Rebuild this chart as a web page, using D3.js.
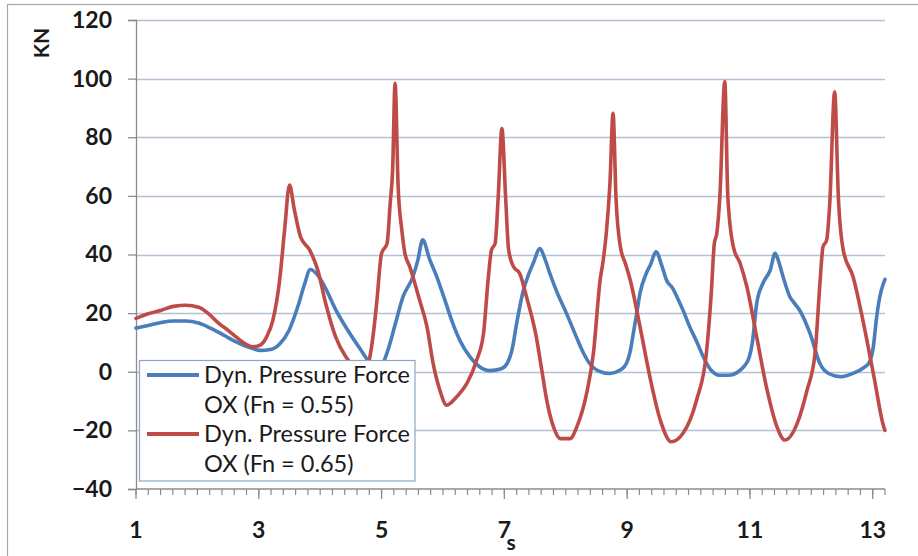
<!DOCTYPE html>
<html>
<head>
<meta charset="utf-8">
<script src="https://cdn.jsdelivr.net/npm/d3@7"></script>
<style>
  body { margin: 0; background: #fff; }
  svg { display: block; font-family: Lato, "Open Sans", "Liberation Sans", sans-serif; }
</style>
</head>
<body>
<svg id="chart" width="918" height="556"></svg>
<script>
// Time (s) and dynamic pressure force (kN), Fn = 0.55
const blueTime = [1.0, 1.2, 1.41, 1.61, 1.81, 2.02, 2.22, 2.42, 2.63, 2.83, 3.03, 3.19, 3.34, 3.49, 3.64, 3.74, 3.84, 3.95, 4.05, 4.25, 4.46, 4.66, 4.81, 4.91, 5.01, 5.12, 5.22, 5.35, 5.51, 5.59, 5.67, 5.78, 5.9, 6.03, 6.16, 6.28, 6.44, 6.59, 6.76, 6.95, 7.05, 7.13, 7.2, 7.31, 7.4, 7.47, 7.58, 7.66, 7.74, 7.86, 8.01, 8.16, 8.29, 8.4, 8.52, 8.72, 8.88, 8.98, 9.05, 9.1, 9.16, 9.21, 9.31, 9.38, 9.47, 9.56, 9.64, 9.74, 9.81, 9.92, 10.02, 10.15, 10.24, 10.35, 10.51, 10.65, 10.81, 10.91, 10.99, 11.04, 11.11, 11.21, 11.33, 11.41, 11.47, 11.54, 11.65, 11.72, 11.81, 11.98, 12.14, 12.28, 12.48, 12.69, 12.84, 12.94, 13.01, 13.06, 13.11, 13.18, 13.2];
const blueForce = [14.9, 15.8, 16.8, 17.3, 17.3, 16.6, 14.8, 12.6, 10.2, 8.4, 7.3, 7.6, 9.5, 14.0, 22.5, 29.5, 34.9, 33.2, 30.0, 21.3, 13.8, 7.5, 3.0, 1.2, 2.5, 8.5, 16.0, 25.6, 32.4, 38.0, 45.0, 38.5, 32.4, 24.5, 16.5, 10.5, 5.1, 1.8, 0.4, 1.0, 3.0, 8.0, 16.5, 27.8, 33.5, 37.0, 42.0, 38.5, 33.6, 27.0, 20.0, 12.5, 6.3, 2.5, 0.4, -0.6, 0.5, 2.5, 7.0, 13.0, 20.5, 26.8, 33.5, 36.5, 40.9, 36.5, 31.3, 28.5, 25.6, 20.5, 15.3, 9.5, 5.1, 1.0, -1.2, -1.2, 0.0, 2.0, 5.0, 10.0, 23.3, 30.1, 34.7, 40.4, 37.5, 32.4, 25.6, 23.5, 21.0, 13.0, 2.8, -0.6, -1.7, -0.5, 1.2, 3.0, 8.5, 18.0, 25.0, 30.5, 31.5];

// Time (s) and dynamic pressure force (kN), Fn = 0.65
const redTime = [1.0, 1.2, 1.41, 1.61, 1.81, 2.02, 2.17, 2.35, 2.52, 2.63, 2.78, 2.9, 3.03, 3.13, 3.23, 3.34, 3.42, 3.5, 3.58, 3.68, 3.83, 3.96, 4.09, 4.25, 4.42, 4.56, 4.68, 4.78, 4.86, 4.92, 5.0, 5.09, 5.14, 5.18, 5.22, 5.27, 5.33, 5.38, 5.46, 5.62, 5.74, 5.84, 5.95, 6.06, 6.22, 6.39, 6.55, 6.66, 6.74, 6.79, 6.85, 6.9, 6.96, 7.02, 7.07, 7.15, 7.25, 7.36, 7.52, 7.61, 7.69, 7.8, 7.91, 8.07, 8.18, 8.34, 8.45, 8.56, 8.61, 8.66, 8.72, 8.77, 8.82, 8.89, 8.97, 9.05, 9.21, 9.37, 9.54, 9.72, 9.91, 10.13, 10.29, 10.37, 10.42, 10.46, 10.51, 10.59, 10.64, 10.73, 10.84, 10.95, 11.11, 11.28, 11.44, 11.57, 11.77, 11.93, 12.06, 12.14, 12.19, 12.25, 12.3, 12.38, 12.44, 12.52, 12.68, 12.85, 13.02, 13.18, 13.2];
const redForce = [18.2, 19.8, 21.0, 22.3, 22.7, 22.0, 20.0, 16.5, 13.8, 11.9, 9.5, 8.5, 9.2, 12.0, 17.6, 31.3, 48.3, 63.7, 55.2, 46.0, 41.5, 34.7, 23.3, 12.0, 5.0, 1.5, 0.2, 2.5, 12.0, 23.4, 40.4, 43.8, 57.4, 68.8, 98.4, 63.1, 48.3, 40.4, 35.8, 24.4, 15.3, 2.8, -6.3, -11.4, -8.6, -4.0, 4.0, 13.0, 32.4, 41.5, 43.8, 59.7, 83.0, 59.7, 41.5, 35.8, 33.5, 25.6, 11.9, 0.5, -9.7, -18.8, -22.8, -22.8, -18.8, -7.4, 6.2, 31.3, 38.0, 47.2, 64.3, 88.2, 58.6, 42.6, 37.0, 31.3, 15.3, -1.7, -16.5, -23.9, -21.0, -9.7, 6.2, 26.7, 43.8, 47.2, 59.7, 99.0, 59.7, 42.6, 37.0, 29.0, 11.9, -6.3, -18.8, -23.3, -17.6, -6.3, 6.2, 30.1, 42.6, 44.9, 57.4, 95.5, 59.7, 41.5, 32.4, 16.5, -1.7, -18.8, -20.0];

const yTicks = [-40, -20, 0, 20, 40, 60, 80, 100, 120];
const xTickLabels = [1, 3, 5, 7, 9, 11, 13];
const legendLines = [
  ["Dyn. Pressure Force", "OX (Fn = 0.55)"],
  ["Dyn. Pressure Force", "OX (Fn = 0.65)"]
];
const seriesColors = ["#4a7ebb", "#be4b48"];

const svg = d3.select("#chart");
const plot = { left: 136, right: 885, top: 20, bottom: 489 };

const x = d3.scaleLinear().domain([1, 13.2]).range([plot.left, plot.right]);
const y = d3.scaleLinear().domain([-40, 120]).range([plot.bottom, plot.top]);

// outer chart frame
svg.append("rect")
  .attr("x", 7.5).attr("y", 4.5).attr("width", 1000).attr("height", 1000)
  .attr("fill", "#fff").attr("stroke", "#a6a6a6").attr("stroke-width", 1.2);

// horizontal gridlines
svg.append("g").selectAll("line")
  .data(yTicks.filter(d => d !== -40))
  .join("line")
  .attr("x1", plot.left).attr("x2", plot.right)
  .attr("y1", d => Math.round(y(d)) + 0.5).attr("y2", d => Math.round(y(d)) + 0.5)
  .attr("stroke", "#b3c1d6").attr("stroke-width", 1.3);

// y axis
const yAxis = svg.append("g")
  .attr("transform", `translate(${plot.left},0)`)
  .call(d3.axisLeft(y).tickValues(yTicks).tickSize(8).tickPadding(16).tickFormat(d3.format("d")));
yAxis.select(".domain").attr("stroke", "#8c8c8c").attr("stroke-width", 1.3);
yAxis.selectAll(".tick line").attr("stroke", "#8c8c8c").attr("stroke-width", 1.3);
yAxis.selectAll(".tick text")
  .attr("font-size", 23).attr("font-weight", "bold").attr("fill", "#1a1a1a")
  .attr("font-family", "Lato, sans-serif");

// x axis: minor ticks every 0.2 s, major ticks at labelled seconds
const xAxisG = svg.append("g").attr("transform", `translate(0,${plot.bottom})`);
const minorTicks = d3.range(0, 62).map(i => 1 + i * 0.2);
xAxisG.append("line")
  .attr("x1", plot.left).attr("x2", plot.right).attr("y1", 0).attr("y2", 0)
  .attr("stroke", "#8c8c8c").attr("stroke-width", 1.3);
xAxisG.selectAll("line.minor")
  .data(minorTicks)
  .join("line").attr("class", "minor")
  .attr("x1", d => x(d)).attr("x2", d => x(d))
  .attr("y1", 0).attr("y2", 6)
  .attr("stroke", "#8c8c8c").attr("stroke-width", 1.2);
xAxisG.selectAll("line.major")
  .data(xTickLabels)
  .join("line").attr("class", "major")
  .attr("x1", d => x(d)).attr("x2", d => x(d))
  .attr("y1", 0).attr("y2", 10)
  .attr("stroke", "#8c8c8c").attr("stroke-width", 1.3);
xAxisG.selectAll("text")
  .data(xTickLabels)
  .join("text")
  .attr("x", d => x(d)).attr("y", 49)
  .attr("text-anchor", "middle")
  .attr("font-size", 23).attr("font-weight", "bold").attr("fill", "#1a1a1a")
  .text(d => d);

// axis titles
svg.append("text")
  .attr("x", 511).attr("y", 550)
  .attr("text-anchor", "middle")
  .attr("font-size", 21).attr("font-weight", "bold").attr("fill", "#1a1a1a")
  .text("s");
svg.append("text")
  .attr("transform", "translate(49,43) rotate(-90)")
  .attr("text-anchor", "middle")
  .attr("font-size", 21).attr("font-weight", "bold").attr("fill", "#1a1a1a")
  .text("KN");

// series lines
const line = d3.line().x(d => x(d[0])).y(d => y(d[1])).curve(d3.curveMonotoneX);
const series = [
  d3.zip(blueTime, blueForce),
  d3.zip(redTime, redForce)
];
svg.append("g").selectAll("path")
  .data(series)
  .join("path")
  .attr("d", line)
  .attr("fill", "none")
  .attr("stroke", (d, i) => seriesColors[i])
  .attr("stroke-width", 3.6)
  .attr("stroke-linejoin", "round")
  .attr("stroke-linecap", "round");

// legend
const legend = svg.append("g");
legend.append("rect")
  .attr("x", 139.5).attr("y", 360.5).attr("width", 275.5).attr("height", 120.5)
  .attr("fill", "#fff").attr("stroke", "#8ea5c6").attr("stroke-width", 1.2);
const rowGap = 29.5;
legendLines.forEach((lines, i) => {
  const top = 383 + i * 2 * rowGap;
  legend.append("line")
    .attr("x1", 147).attr("x2", 199)
    .attr("y1", top - 8).attr("y2", top - 8)
    .attr("stroke", seriesColors[i]).attr("stroke-width", 4.2);
  lines.forEach((t, j) => {
    legend.append("text")
      .attr("class", "legend-text")
      .attr("x", 204).attr("y", top + j * rowGap)
      .attr("font-size", 21).attr("fill", "#1a1a1a")
      .text(t);
  });
});
// fit legend text to the box width
const first = legend.select("text.legend-text").node();
const w = first.getComputedTextLength();
const fs = 21 * 206 / w;
legend.selectAll("text.legend-text").attr("font-size", fs);
</script>
</body>
</html>
